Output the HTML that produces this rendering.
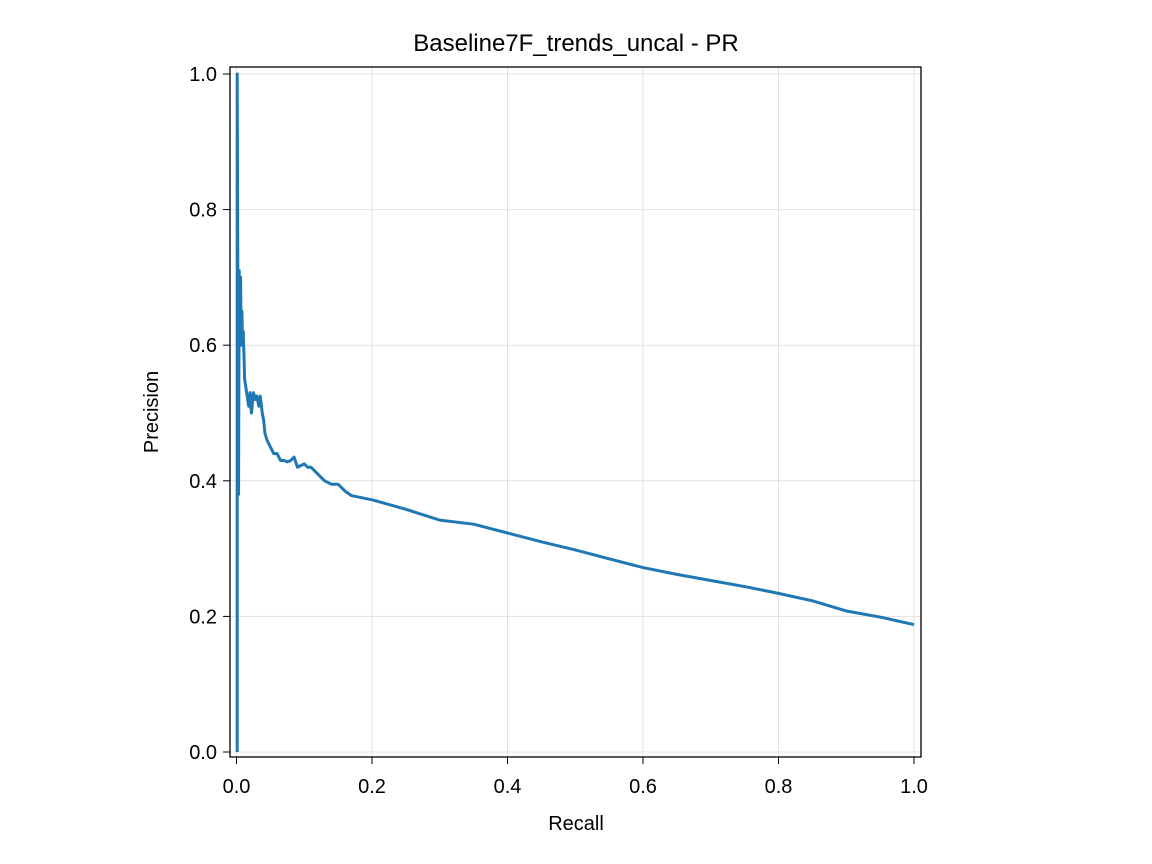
<!DOCTYPE html>
<html><head><meta charset="utf-8"><style>
html,body{margin:0;padding:0;background:#fff;}
svg{display:block;font-family:"Liberation Sans","DejaVu Sans",sans-serif;}
</style></head><body>
<svg id="chart" width="1152" height="864" viewBox="0 0 1152 864">
<rect x="0" y="0" width="1152" height="864" fill="#fff"/>
<text x="576" y="51" text-anchor="middle" font-size="24" fill="#000">Baseline7F_trends_uncal - PR</text>
<g id="grid"></g>
<g id="series"></g>
<rect x="230" y="67" width="691" height="690" fill="none" stroke="#000" stroke-width="1.3"/>
<g id="xticks"></g>
<g id="yticks"></g>
<text x="576" y="830" text-anchor="middle" font-size="20">Recall</text>
<text x="158" y="412" text-anchor="middle" font-size="20" transform="rotate(-90 158 412)">Precision</text>
</svg>
<script>
const tickValues = [0, 0.2, 0.4, 0.6, 0.8, 1.0];
const tickLabels = ["0.0", "0.2", "0.4", "0.6", "0.8", "1.0"];
const recall = [0.001,0.001,0.003,0.004,0.005,0.006,0.007,0.008,0.009,0.01,0.012,0.015,0.018,0.02,0.022,0.025,0.028,0.03,0.033,0.035,0.038,0.04,0.042,0.045,0.05,0.055,0.06,0.065,0.07,0.075,0.08,0.085,0.09,0.1,0.105,0.11,0.12,0.13,0.14,0.15,0.16,0.17,0.2,0.25,0.3,0.35,0.4,0.45,0.5,0.55,0.6,0.65,0.7,0.75,0.8,0.85,0.9,0.95,1.0];
const precision = [0.0,1.0,0.38,0.71,0.62,0.7,0.6,0.65,0.6,0.62,0.55,0.53,0.51,0.53,0.5,0.53,0.52,0.525,0.51,0.525,0.5,0.49,0.47,0.46,0.45,0.44,0.44,0.43,0.43,0.428,0.43,0.435,0.42,0.425,0.42,0.42,0.41,0.40,0.395,0.395,0.385,0.378,0.372,0.358,0.342,0.336,0.323,0.31,0.298,0.285,0.272,0.262,0.253,0.244,0.234,0.223,0.208,0.199,0.188];
const NS='http://www.w3.org/2000/svg';
function xs(v){return 236.5+v*677.5;}
function ys(v){return 752-v*678;}
const grid=document.getElementById('grid'),xt=document.getElementById('xticks'),yt=document.getElementById('yticks'),ser=document.getElementById('series');
tickValues.forEach((v,i)=>{
  const gx=document.createElementNS(NS,'line');
  
  
  gx.setAttribute('x1',xs(v));gx.setAttribute('x2',xs(v));gx.setAttribute('y1',67);gx.setAttribute('y2',757);
  gx.setAttribute('stroke','#e0e0e0');gx.setAttribute('stroke-width','1');grid.appendChild(gx);
  const gy=document.createElementNS(NS,'line');
  
  
  gy.setAttribute('x1',230);gy.setAttribute('x2',921);gy.setAttribute('y1',ys(v));gy.setAttribute('y2',ys(v));
  gy.setAttribute('stroke','#e0e0e0');gy.setAttribute('stroke-width','1');grid.appendChild(gy);
  const tx=document.createElementNS(NS,'line');
  
  
  tx.setAttribute('x1',xs(v));tx.setAttribute('x2',xs(v));tx.setAttribute('y1',757);tx.setAttribute('y2',764);tx.setAttribute('stroke','#000');xt.appendChild(tx);
  const lx=document.createElementNS(NS,'text');
  
  
  lx.setAttribute('x',xs(v));lx.setAttribute('y',793);lx.setAttribute('text-anchor','middle');lx.setAttribute('font-size','20');lx.textContent=tickLabels[i];xt.appendChild(lx);
  const ty=document.createElementNS(NS,'line');
  
  
  ty.setAttribute('x1',223);ty.setAttribute('x2',230);ty.setAttribute('y1',ys(v));ty.setAttribute('y2',ys(v));ty.setAttribute('stroke','#000');yt.appendChild(ty);
  const ly=document.createElementNS(NS,'text');
  
  
  ly.setAttribute('x',217);ly.setAttribute('y',ys(v)+7);ly.setAttribute('text-anchor','end');ly.setAttribute('font-size','20');ly.textContent=tickLabels[i];yt.appendChild(ly);
});
const p=document.createElementNS(NS,'polyline');


p.setAttribute('points',recall.map((r,i)=>xs(r)+','+ys(precision[i])).join(' '));
p.setAttribute('fill','none');p.setAttribute('stroke','#1f77b4');p.setAttribute('stroke-width','3');p.setAttribute('stroke-linejoin','round');
ser.appendChild(p);
</script>
</body></html>
